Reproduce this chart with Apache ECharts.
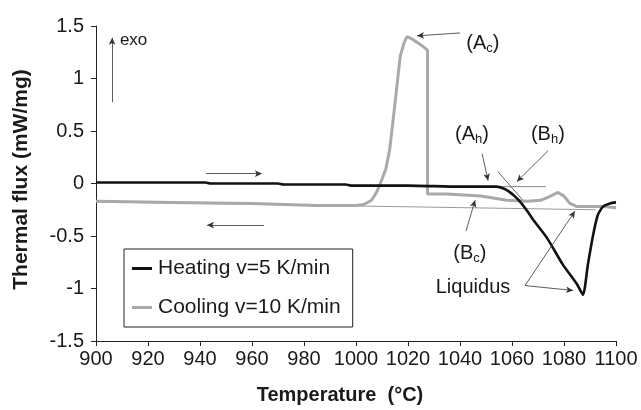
<!DOCTYPE html>
<html>
<head>
<meta charset="utf-8">
<script src="https://cdn.jsdelivr.net/npm/echarts@6/dist/echarts.min.js"></script>
<style>html,body{margin:0;padding:0;background:#fff}#c{width:641px;height:410px}</style>
</head>
<body>
<div id="c"></div>
<script>
// ---- data ----
var seriesNames = ['Heating v=5 K/min', 'Cooling v=10 K/min'];
var heatT = [900, 920, 942, 944, 970, 972, 996, 998, 1020, 1040, 1050, 1054, 1057, 1059, 1061, 1063, 1065.5, 1068, 1073.5, 1079.5, 1085, 1087.3, 1089.2, 1091.2, 1093, 1095, 1097.7, 1100];
var heatV = [0.01, 0.01, 0.01, 0.0, 0.0, -0.01, -0.01, -0.02, -0.02, -0.03, -0.03, -0.03, -0.05, -0.08, -0.12, -0.17, -0.25, -0.34, -0.52, -0.77, -0.96, -1.06, -0.77, -0.49, -0.30, -0.22, -0.19, -0.18];
var coolT = [900, 930, 960, 985, 995, 1000, 1003, 1006, 1008, 1010, 1011.5, 1013, 1014.3, 1015.7, 1017, 1018.5, 1019.6, 1022, 1025, 1027.5, 1027.5, 1035, 1048, 1058, 1066, 1071, 1074, 1077.7, 1080, 1082.3, 1085, 1090, 1095, 1100];
var coolV = [-0.17, -0.18, -0.19, -0.21, -0.21, -0.21, -0.20, -0.16, -0.08, 0.04, 0.14, 0.33, 0.61, 0.92, 1.21, 1.34, 1.40, 1.37, 1.32, 1.27, -0.10, -0.10, -0.12, -0.16, -0.17, -0.16, -0.13, -0.085, -0.12, -0.19, -0.22, -0.22, -0.22, -0.23];
// construction lines (tangents)
var heatBaseT = [1040, 1073];
var heatBaseV = [-0.03, -0.03];
var heatTanT = [1054.6, 1064.2];
var heatTanV = [0.113, -0.16];
var coolBaseT = [900, 1092];
var coolBaseV = [-0.175, -0.25];
// annotation arrows [x1, y1, x2, y2]
var arrows = [
  [1040, 1.434, 1023.5, 1.406],
  [1048.5, 0.283, 1050.8, 0.028],
  [1073.8, 0.311, 1061.9, 0.019],
  [1042.3, -0.453, 1045.8, -0.16],
  [1065, -0.972, 1083.5, -1.019],
  [1065, -0.972, 1084.2, -0.264],
  [906.2, 0.774, 906.2, 1.387],
  [942.3, 0.094, 963.8, 0.094],
  [964.6, -0.396, 942.7, -0.396]
];
// annotation labels
var labelText = ['(A{s|c})', '(A{s|h})', '(B{s|h})', '(B{s|c})', 'Liquidus', 'exo'];
var labelT = [1048.8, 1044.6, 1073.8, 1043.8, 1045, 909.2];
var labelV = [1.33, 0.47, 0.47, -0.67, -0.99, 1.36];
var labelAlign = ['center', 'center', 'center', 'center', 'center', 'left'];
var labelSize = [20, 20, 20, 20, 20, 17];
// axis
var xMin = 900, xMax = 1100, xStep = 20;
var yMin = -1.5, yMax = 1.5, yStep = 0.5;

function pairs(a, b) { return a.map(function (v, i) { return [v, b[i]]; }); }

var FONT = '"Liberation Sans", Arial, sans-serif';
var chart = echarts.init(document.getElementById('c'), null, {renderer: 'canvas'});

var labelData = labelText.map(function (t, i) {
  return {
    value: [labelT[i], labelV[i]],
    label: {
      show: true, position: 'inside', formatter: t, align: labelAlign[i], verticalAlign: 'middle',
      color: '#1a1a1a', fontSize: labelSize[i], fontFamily: FONT,
      textBorderWidth: 0, textBorderColor: 'transparent',
      rich: { s: { fontSize: 13, fontFamily: FONT, color: '#1a1a1a', verticalAlign: 'bottom', padding: [10, 0, 0, 0], textBorderWidth: 0 } }
    }
  };
});

var option = {
  animation: false,
  backgroundColor: '#fff',
  grid: { left: 96, right: 25, top: 26, bottom: 66, containLabel: false },
  legend: {
    data: seriesNames,
    orient: 'vertical',
    left: 124, top: 249,
    padding: [9, 12, 9, 8],
    itemGap: 18,
    itemWidth: 20, itemHeight: 3,
    icon: 'rect',
    borderColor: '#222', borderWidth: 1,
    textStyle: { fontSize: 21, fontFamily: FONT, color: '#1a1a1a', padding: [0, 0, 0, 1] }
  },
  xAxis: {
    type: 'value', min: xMin, max: xMax, interval: xStep,
    name: 'Temperature  (°C)', nameLocation: 'middle', nameGap: 44,
    nameTextStyle: { fontSize: 20, fontWeight: 'bold', fontFamily: FONT, color: '#1a1a1a', padding: [0, 32, 0, 0] },
    axisLine: { show: true, onZero: false, lineStyle: { color: '#222', width: 1 } },
    axisTick: { show: true, length: 5, lineStyle: { color: '#222' } },
    axisLabel: { fontSize: 20, fontFamily: FONT, color: '#1a1a1a', margin: 8,
      formatter: function (v) { return String(v); } },
    splitLine: { show: false }
  },
  yAxis: {
    type: 'value', min: yMin, max: yMax, interval: yStep,
    name: 'Thermal flux (mW/mg)', nameLocation: 'middle', nameGap: 64, nameRotate: 90,
    nameTextStyle: { fontSize: 21, fontWeight: 'bold', fontFamily: FONT, color: '#1a1a1a', padding: [0, 0, 0, 8] },
    axisLine: { show: true, onZero: false, lineStyle: { color: '#222', width: 1 } },
    axisTick: { show: true, length: 5, lineStyle: { color: '#222' } },
    axisLabel: { fontSize: 20, fontFamily: FONT, color: '#1a1a1a', margin: 12,
      formatter: function (v) { return String(v); } },
    splitLine: { show: false }
  },
  series: [
    {
      name: 'construction', type: 'line', data: pairs(coolBaseT, coolBaseV), showSymbol: false, silent: true,
      lineStyle: { color: '#9a9a9a', width: 1 }, z: 1
    },
    {
      name: seriesNames[1], type: 'line', data: pairs(coolT, coolV), showSymbol: false, smooth: false,
      itemStyle: { color: '#a9a9a9' }, lineStyle: { color: '#a9a9a9', width: 3 }, z: 2
    },
    {
      name: 'construction2', type: 'line', data: pairs(heatBaseT, heatBaseV), showSymbol: false, silent: true,
      lineStyle: { color: '#888', width: 1 }, z: 1
    },
    {
      name: 'construction3', type: 'line', data: pairs(heatTanT, heatTanV), showSymbol: false, silent: true,
      lineStyle: { color: '#666', width: 1 }, z: 1
    },
    {
      name: seriesNames[0], type: 'line', data: pairs(heatT, heatV), showSymbol: false, smooth: 0.2,
      itemStyle: { color: '#111' }, lineStyle: { color: '#111', width: 2.6 }, z: 3
    },
    {
      name: 'arrows', type: 'line', data: [], silent: true,
      markLine: {
        silent: true, animation: false,
        symbol: ['none', 'arrow'], symbolSize: [5, 7],
        label: { show: false },
        lineStyle: { color: '#333', width: 0.8, type: 'solid' },
        data: arrows.map(function (a) { return [{ coord: [a[0], a[1]] }, { coord: [a[2], a[3]] }]; })
      }
    },
    {
      name: 'labels', type: 'scatter', symbolSize: 0, silent: true, data: labelData, z: 5,
      itemStyle: { color: 'transparent', opacity: 1 }
    }
  ]
};
chart.setOption(option);
</script>
</body>
</html>
